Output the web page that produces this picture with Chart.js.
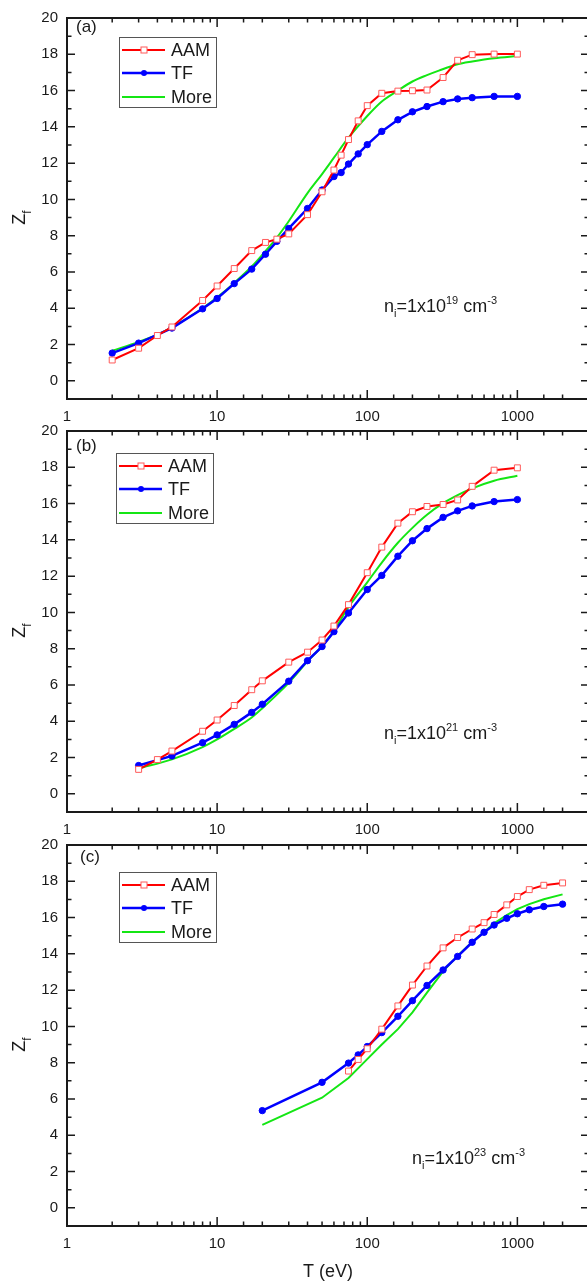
<!DOCTYPE html>
<html><head><meta charset="utf-8">
<script src="https://cdn.jsdelivr.net/npm/chart.js@4.4.0/dist/chart.umd.min.js"></script>
<style>
html,body{margin:0;padding:0;background:#fff;overflow:hidden;width:587px;height:1285px;}
canvas.p{position:absolute;left:0;}
</style></head><body>
<canvas id="ca" class="p" width="598" height="430" style="top:0px"></canvas>
<canvas id="cb" class="p" width="598" height="430" style="top:413px"></canvas>
<canvas id="cc" class="p" width="598" height="458" style="top:827px"></canvas>
<script>
// ---------- data ----------
const xTickLabels = [1, 10, 100, 1000];
const yTickLabels = [0, 2, 4, 6, 8, 10, 12, 14, 16, 18, 20];
const seriesNames = ['AAM', 'TF', 'More'];

// panel (a) n_i = 1e19
const aAAM_T = [2,3,4,5,8,10,13,17,21,25,30,40,50,60,67,75,87,100,125,160,200,250,320,400,500,700,1000];
const aAAM_Z = [1.15,1.8,2.5,2.97,4.43,5.23,6.19,7.18,7.63,7.81,8.1,9.16,10.42,11.62,12.44,13.3,14.33,15.17,15.85,15.97,15.99,16.03,16.72,17.67,17.98,18.01,18.01];
const aTF_T = [2,3,5,8,10,13,17,21,25,30,40,50,60,67,75,87,100,125,160,200,250,320,400,500,700,1000];
const aTF_Z = [1.53,2.08,2.91,3.97,4.54,5.36,6.16,6.98,7.69,8.4,9.5,10.52,11.26,11.48,11.95,12.51,13.02,13.75,14.39,14.83,15.12,15.39,15.54,15.61,15.68,15.68];
const aMore_T = [2,3,4,5,8,10,13,17,21,25,30,40,50,60,75,100,125,160,200,250,300,400,500,700,1000];
const aMore_Z = [1.66,2.15,2.55,2.95,4.0,4.6,5.4,6.3,7.15,7.9,8.8,10.35,11.4,12.3,13.4,14.6,15.4,16.0,16.5,16.85,17.1,17.45,17.6,17.78,17.9];

// panel (b) n_i = 1e21
const bAAM_T = [3,4,5,8,10,13,17,20,30,40,50,60,75,100,125,160,200,250,320,400,500,700,1000];
const bAAM_Z = [1.35,1.89,2.36,3.45,4.07,4.87,5.74,6.23,7.26,7.81,8.48,9.25,10.43,12.19,13.6,14.92,15.55,15.84,15.95,16.2,16.95,17.84,17.97];
const bTF_T = [3,5,8,10,13,17,20,30,40,50,60,75,100,125,160,200,250,320,400,500,700,1000];
const bTF_Z = [1.56,2.09,2.82,3.25,3.83,4.49,4.94,6.21,7.34,8.12,8.94,9.97,11.26,12.04,13.1,13.95,14.62,15.24,15.6,15.87,16.11,16.22];
const bMore_T = [3,5,8,10,13,17,20,30,40,50,60,75,100,125,160,200,250,320,400,500,700,1000];
const bMore_Z = [1.4,1.9,2.58,3.0,3.58,4.21,4.72,6.12,7.3,8.15,9.0,10.3,11.66,12.75,13.84,14.66,15.38,16.02,16.47,16.84,17.26,17.53];

// panel (c) n_i = 1e23
const cAAM_T = [75,87,100,125,160,200,250,320,400,500,600,700,850,1000,1200,1500,2000];
const cAAM_Z = [7.54,8.18,8.77,9.85,11.13,12.28,13.33,14.33,14.9,15.37,15.72,16.17,16.7,17.16,17.54,17.78,17.91];
const cTF_T = [20,50,75,87,100,125,160,200,250,320,400,500,600,700,850,1000,1200,1500,2000];
const cTF_Z = [5.36,6.92,7.98,8.43,8.89,9.66,10.56,11.42,12.26,13.11,13.86,14.64,15.19,15.59,15.96,16.21,16.43,16.61,16.74];
const cMore_T = [20,50,75,100,125,160,200,250,320,400,500,600,700,850,1000,1200,1500,2000];
const cMore_Z = [4.57,6.07,7.16,8.2,9.0,9.85,10.77,11.86,13.04,13.9,14.66,15.2,15.68,16.14,16.47,16.74,17.01,17.28];

// ---------- layout / style ----------
const FONT = "'Liberation Sans', Arial, Helvetica, sans-serif";
const INK = '#1a1a1a';
const PLOT_H = 385;
const PANELS = [
  {id:'ca', tag:'(a)', exp:'19', T:[aAAM_T,aTF_T,aMore_T], Z:[aAAM_Z,aTF_Z,aMore_Z], smooth:true,
   legend:{x:119,y:37}, tagPos:{x:76,y:27}, note:{x:384,y:306}, xtitle:false},
  {id:'cb', tag:'(b)', exp:'21', T:[bAAM_T,bTF_T,bMore_T], Z:[bAAM_Z,bTF_Z,bMore_Z], smooth:true,
   legend:{x:116,y:40}, tagPos:{x:76,y:33}, note:{x:384,y:320}, xtitle:false},
  {id:'cc', tag:'(c)', exp:'23', T:[cAAM_T,cTF_T,cMore_T], Z:[cAAM_Z,cTF_Z,cMore_Z], smooth:false,
   legend:{x:119,y:45}, tagPos:{x:80,y:30}, note:{x:412,y:331}, xtitle:true}
];

function isDecade(v){ return xTickLabels.some(d => Math.abs(d - v) < 1e-6); }

function richText(ctx, x, y, parts, size){
  let cx = x;
  parts.forEach(p => {
    const s = p.sub || p.sup ? Math.round(size*0.62) : size;
    ctx.font = s + 'px ' + FONT;
    const dy = p.sub ? size*0.28 : (p.sup ? -size*0.42 : 0);
    ctx.fillText(p.t, cx, y + dy);
    cx += ctx.measureText(p.t).width;
  });
}

function makeDecor(panel){
  return {
    id: 'decor',
    afterDraw(chart){
      const {ctx, chartArea:a, scales:{x, y}} = chart;
      ctx.save();
      ctx.strokeStyle = INK; ctx.fillStyle = INK;
      // inward ticks
      ctx.lineWidth = 1.5;
      ctx.beginPath();
      x.ticks.forEach(t => {
        if (t.value <= x.min || t.value >= x.max) return;
        const px = x.getPixelForValue(t.value);
        const len = isDecade(t.value) ? 9 : 4.5;
        ctx.moveTo(px, a.bottom); ctx.lineTo(px, a.bottom - len);
        ctx.moveTo(px, a.top); ctx.lineTo(px, a.top + len);
      });
      y.ticks.forEach(t => {
        if (t.value <= y.min || t.value >= y.max) return;
        const py = y.getPixelForValue(t.value);
        const len = yTickLabels.includes(t.value) ? 8 : 4.5;
        ctx.moveTo(a.left, py); ctx.lineTo(a.left + len, py);
        ctx.moveTo(a.right, py); ctx.lineTo(a.right - len, py);
      });
      ctx.stroke();
      // frame
      ctx.lineWidth = 2;
      ctx.strokeRect(a.left, a.top, a.right - a.left, a.bottom - a.top);

      // panel tag
      ctx.textBaseline = 'middle'; ctx.textAlign = 'left';
      ctx.font = '17px ' + FONT;
      ctx.fillText(panel.tag, panel.tagPos.x, panel.tagPos.y);

      // legend
      const L = panel.legend;
      ctx.lineWidth = 1; ctx.strokeStyle = '#555';
      ctx.strokeRect(L.x + 0.5, L.y + 0.5, 97, 70);
      const rows = [13, 36, 60];
      chart.data.datasets.forEach((ds, i) => {
        const ry = L.y + rows[i];
        ctx.strokeStyle = ds.borderColor; ctx.lineWidth = ds.borderWidth;
        ctx.beginPath(); ctx.moveTo(L.x + 3, ry); ctx.lineTo(L.x + 46, ry); ctx.stroke();
        if (ds.pointRadius > 0){
          ctx.fillStyle = ds.pointBackgroundColor; ctx.strokeStyle = ds.pointBorderColor;
          ctx.lineWidth = ds.pointBorderWidth;
          if (ds.pointStyle === 'rect'){
            ctx.fillRect(L.x + 22, ry - 3, 6, 6); ctx.strokeRect(L.x + 22, ry - 3, 6, 6);
          } else {
            ctx.beginPath(); ctx.arc(L.x + 25, ry, 3, 0, Math.PI*2); ctx.fill();
          }
        }
        ctx.fillStyle = INK; ctx.font = '18px ' + FONT; ctx.textBaseline = 'middle';
        ctx.fillText(ds.label, L.x + 52, ry + 1);
      });

      // density annotation
      ctx.fillStyle = INK; ctx.textBaseline = 'alphabetic'; ctx.textAlign = 'left';
      richText(ctx, panel.note.x, panel.note.y + 6,
        [{t:'n'},{t:'i',sub:true},{t:'=1x10'},{t:panel.exp,sup:true},{t:' cm'},{t:'-3',sup:true}], 18);

      // y title Z_f
      ctx.save();
      ctx.translate(25, (a.top + a.bottom)/2 + 9);
      ctx.rotate(-Math.PI/2);
      ctx.font = '18px ' + FONT;
      const wz = ctx.measureText('Z').width;
      ctx.font = '12px ' + FONT;
      const wf = ctx.measureText('f').width;
      const x0 = -(wz + wf)/2;
      ctx.font = '18px ' + FONT; ctx.fillText('Z', x0, 0);
      ctx.font = '12px ' + FONT; ctx.fillText('f', x0 + wz, 6);
      ctx.restore();

      // x title
      if (panel.xtitle){
        ctx.font = '18px ' + FONT; ctx.textAlign = 'center'; ctx.textBaseline = 'middle';
        ctx.fillText('T (eV)', (a.left + a.right)/2, 445);
      }
      ctx.restore();
    }
  };
}

function pts(T, Z){ return T.map((t, i) => ({x: t, y: Z[i]})); }

PANELS.forEach(panel => {
  const cv = document.getElementById(panel.id);
  const H = cv.height;
  const datasets = [
    {label: seriesNames[0], data: pts(panel.T[0], panel.Z[0]), borderColor:'#ff0000', borderWidth:2,
     pointStyle:'rect', pointRadius:4.2, pointBackgroundColor:'#ffffff', pointBorderColor:'#ff5a5a',
     pointBorderWidth:1, tension:0},
    {label: seriesNames[1], data: pts(panel.T[1], panel.Z[1]), borderColor:'#0000ff', borderWidth:2.5,
     pointStyle:'circle', pointRadius:3.2, pointBackgroundColor:'#0000ff', pointBorderColor:'#0000ff',
     pointBorderWidth:1, tension:0},
    {label: seriesNames[2], data: pts(panel.T[2], panel.Z[2]), borderColor:'#14e614', borderWidth:2,
     pointRadius:0, pointBorderWidth:0, pointBackgroundColor:'#14e614', pointBorderColor:'#14e614',
     cubicInterpolationMode: panel.smooth ? 'monotone' : 'default', tension: 0}
  ];
  new Chart(cv, {
    type: 'line',
    data: {datasets},
    options: {
      responsive:false, animation:false, devicePixelRatio:1,
      layout:{padding:{top:14, left:0, right:0, bottom:0}},
      plugins:{legend:{display:false}, tooltip:{enabled:false}, title:{display:false}},
      scales:{
        x:{type:'logarithmic', min:1, max:3000,
           grid:{display:false, drawTicks:false}, border:{display:false},
           ticks:{autoSkip:false, maxRotation:0, minRotation:0, padding:9, color:INK,
                  font:{family:FONT, size:15},
                  callback:(v) => isDecade(v) ? String(Math.round(v)) : ''},
           afterFit:(s) => { s.height = H - 14 - PLOT_H; }},
        y:{type:'linear', min:-1, max:20,
           grid:{display:false, drawTicks:false}, border:{display:false},
           ticks:{stepSize:1, autoSkip:false, padding:9, color:INK, font:{family:FONT, size:15},
                  callback:(v) => yTickLabels.includes(v) ? String(v) : ''},
           afterFit:(s) => { s.width = 67; }}
      }
    },
    plugins:[makeDecor(panel)]
  });
});
</script>
</body></html>
